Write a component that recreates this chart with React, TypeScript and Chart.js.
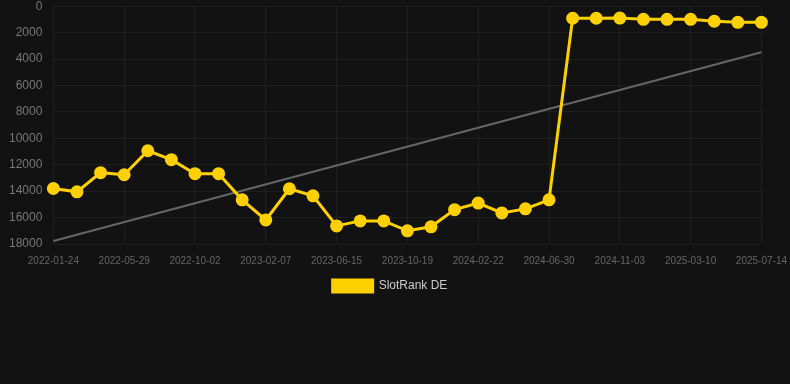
import React, { useEffect, useRef } from "react";
import { Chart, registerables } from "chart.js";

Chart.register(...registerables);

const labels = [
  "2022-01-24", "2022-03-07", "2022-04-18", "2022-05-29", "2022-07-10", "2022-08-21",
  "2022-10-02", "2022-11-13", "2022-12-26", "2023-02-07", "2023-03-21", "2023-05-03",
  "2023-06-15", "2023-07-27", "2023-09-07", "2023-10-19", "2023-11-30", "2024-01-11",
  "2024-02-22", "2024-04-04", "2024-05-17", "2024-06-30", "2024-08-11", "2024-09-22",
  "2024-11-03", "2024-12-15", "2025-01-27", "2025-03-10", "2025-04-21", "2025-06-02",
  "2025-07-14",
];

const slotRankDE = [
  13800, 14050, 12600, 12760, 10940, 11620, 12680, 12680, 14660, 16180, 13820, 14350,
  16630, 16250, 16250, 17000, 16700, 15400, 14900, 15650, 15340, 14660, 910, 910,
  900, 990, 990, 990, 1140, 1220, 1220,
];

const trendStart = 17770;
const trendEnd = 3490;

const yTicks = [0, 2000, 4000, 6000, 8000, 10000, 12000, 14000, 16000, 18000];

export default function App() {
  const ref = useRef<HTMLCanvasElement | null>(null);

  useEffect(() => {
    document.body.style.margin = "0";
    document.body.style.background = "#121212";
    const trend = labels.map((_, i) =>
      i === 0 ? trendStart : i === labels.length - 1 ? trendEnd : null
    );
    const font = { family: "'Liberation Sans', Arial, sans-serif" };
    const chart = new Chart(ref.current!, {
      type: "line",
      data: {
        labels,
        datasets: [
          {
            label: "SlotRank DE",
            data: slotRankDE,
            borderColor: "#FFD000",
            backgroundColor: "#FFD000",
            borderWidth: 3,
            pointRadius: 5,
            pointHoverRadius: 5,
            pointBackgroundColor: "#FFD000",
            pointBorderColor: "#FFD000",
            tension: 0,
          },
          {
            label: "trend",
            data: trend,
            borderColor: "#666666",
            borderWidth: 2,
            pointRadius: 0,
            spanGaps: true,
            tension: 0,
          },
        ],
      },
      options: {
        animation: false,
        responsive: false,
        maintainAspectRatio: false,
        layout: { padding: { left: 6, right: 16 } },
        plugins: {
          legend: {
            position: "bottom",
            labels: {
              color: "#cccccc",
              font: { ...font, size: 12 },
              boxWidth: 40,
              boxHeight: 12,
              filter: (item) => item.text !== "trend",
            },
          },
          tooltip: { enabled: false },
        },
        scales: {
          x: {
            offset: false,
            grid: {
              color: (ctx) => (ctx.index % 3 === 0 ? "rgba(255,255,255,0.05)" : "rgba(0,0,0,0)"),
              tickColor: (ctx) => (ctx.index % 3 === 0 ? "rgba(0,0,0,0.5)" : "rgba(0,0,0,0)"),
            },
            border: { display: false },
            ticks: {
              color: "#666666",
              font: { ...font, size: 10 },
              autoSkip: false,
              maxRotation: 0,
              minRotation: 0,
              callback: (_v, i) => (i % 3 === 0 ? labels[i] : ""),
            },
          },
          y: {
            reverse: true,
            min: yTicks[0],
            max: yTicks[yTicks.length - 1],
            grid: { color: "rgba(255,255,255,0.05)", tickColor: "rgba(0,0,0,0)" },
            border: { display: false },
            afterBuildTicks: (axis) => {
              axis.ticks = yTicks.map((v) => ({ value: v }));
            },
            ticks: {
              color: "#777777",
              font: { ...font, size: 12 },
              callback: (v) => String(v),
            },
          },
        },
      },
    });
    return () => chart.destroy();
  }, []);

  return (
    <div style={{ width: 790, height: 384, background: "#121212", overflow: "hidden" }}>
      <canvas ref={ref} width={790} height={306} style={{ display: "block", marginTop: -4 }} />
    </div>
  );
}
